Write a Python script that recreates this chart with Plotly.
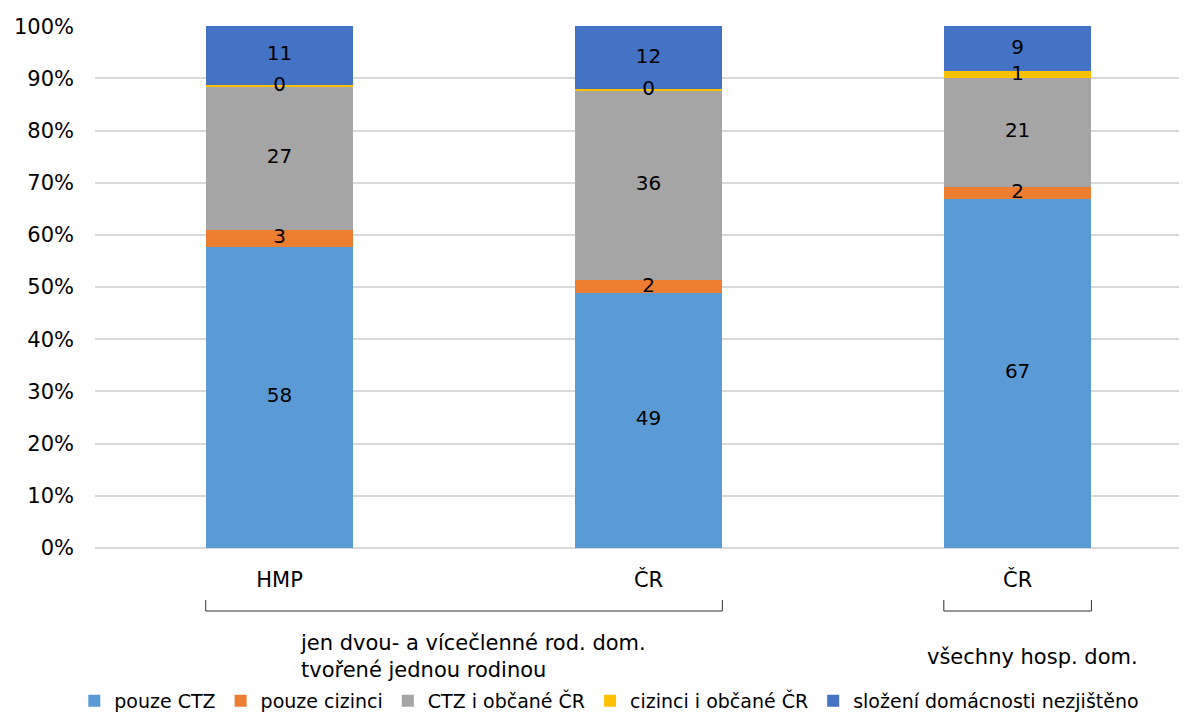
import plotly.graph_objects as go

categories = ["HMP", "ČR", "ČR "]
tick_labels = ["HMP", "ČR", "ČR"]
groups = ["jen dvou- a vícečlenné rod. dom.<br>tvořené jednou rodinou", "všechny hosp. dom."]

series_names = ["pouze CTZ", "pouze cizinci", "CTZ i občané ČR", "cizinci i občané ČR", "složení domácnosti nezjištěno"]
pouze_ctz = [57.7, 48.9, 66.9]
pouze_cizinci = [3.3, 2.4, 2.3]
ctz_i_obcane = [27.4, 36.4, 20.9]
cizinci_i_obcane = [0.4, 0.3, 1.3]
nezjisteno = [11.2, 12.0, 8.6]
colors = ["#5B9BD5", "#ED7D31", "#A5A5A5", "#FFC000", "#4472C4"]

series = [pouze_ctz, pouze_cizinci, ctz_i_obcane, cizinci_i_obcane, nezjisteno]

FONT = "DejaVu Sans"
fig = go.Figure()
for name, vals, col in zip(series_names, series, colors):
    fig.add_trace(go.Bar(
        x=categories, y=vals, name=name, width=0.4,
        marker=dict(color=col, line=dict(width=0)),
        hoverinfo="skip",
    ))

# data labels via a text trace
lx, ly, lt = [], [], []
for i, c in enumerate(categories):
    cum = 0
    for vals in series:
        v = vals[i]
        lx.append(c)
        ly.append(cum + v / 2)
        lt.append(str(round(v)))
        cum += v
fig.add_trace(go.Scatter(x=lx, y=ly, text=lt, mode="text", showlegend=False,
                         textfont=dict(family=FONT, size=20, color="#000000"),
                         hoverinfo="skip"))

fig.update_layout(
    barmode="stack",
    width=1179, height=712,
    margin=dict(l=87, r=0, t=18, b=172, autoexpand=False),
    plot_bgcolor="white", paper_bgcolor="white",
    font=dict(family=FONT, size=20, color="#000000"),
    legend=dict(orientation="h", xref="container", yref="container",
                x=0.51, xanchor="center", y=0.0, yanchor="bottom",
                font=dict(family=FONT, size=19, color="#000000"),
                itemwidth=30, tracegroupgap=0, traceorder="normal"),
    showlegend=True,
)
fig.update_xaxes(
    type="category", range=[-0.5, 2.459], automargin=False,
    tickvals=categories, ticktext=tick_labels,
    showgrid=False, showline=False, ticks="",
    ticklabelstandoff=17,
    tickfont=dict(family=FONT, size=21, color="#000000"),
)
fig.update_yaxes(
    range=[0, 100.05], automargin=False,
    tickvals=[0, 10, 20, 30, 40, 50, 60, 70, 80, 90, 100],
    ticktext=[f"{v}%" for v in range(0, 101, 10)],
    showgrid=True, gridcolor="#D9D9D9", gridwidth=1.5,
    zeroline=True, zerolinecolor="#D9D9D9", zerolinewidth=1.5,
    ticklabelstandoff=20,
    tickfont=dict(family=FONT, size=21, color="#000000"),
)

# group brackets under categories
brackets = [(0, 1), (2, 2)]
for a, b in brackets:
    x0, x1 = a - 0.2, b + 0.2
    fig.add_shape(type="path", xref="x", yref="paper",
                  path=f"M {x0},-0.0996 L {x0},-0.1207 L {x1},-0.1207 L {x1},-0.0996",
                  line=dict(color="#303030", width=1))

fig.add_annotation(x=0.05, y=-0.208, xref="x", yref="paper", text=groups[0],
                   showarrow=False, xanchor="left", yanchor="middle", align="left",
                   font=dict(family=FONT, size=21, color="#000000"))
fig.add_annotation(x=2.04, y=-0.209, xref="x", yref="paper", text=groups[1],
                   showarrow=False, xanchor="center", yanchor="middle", align="center",
                   font=dict(family=FONT, size=21, color="#000000"))

fig.write_html("out.html")
